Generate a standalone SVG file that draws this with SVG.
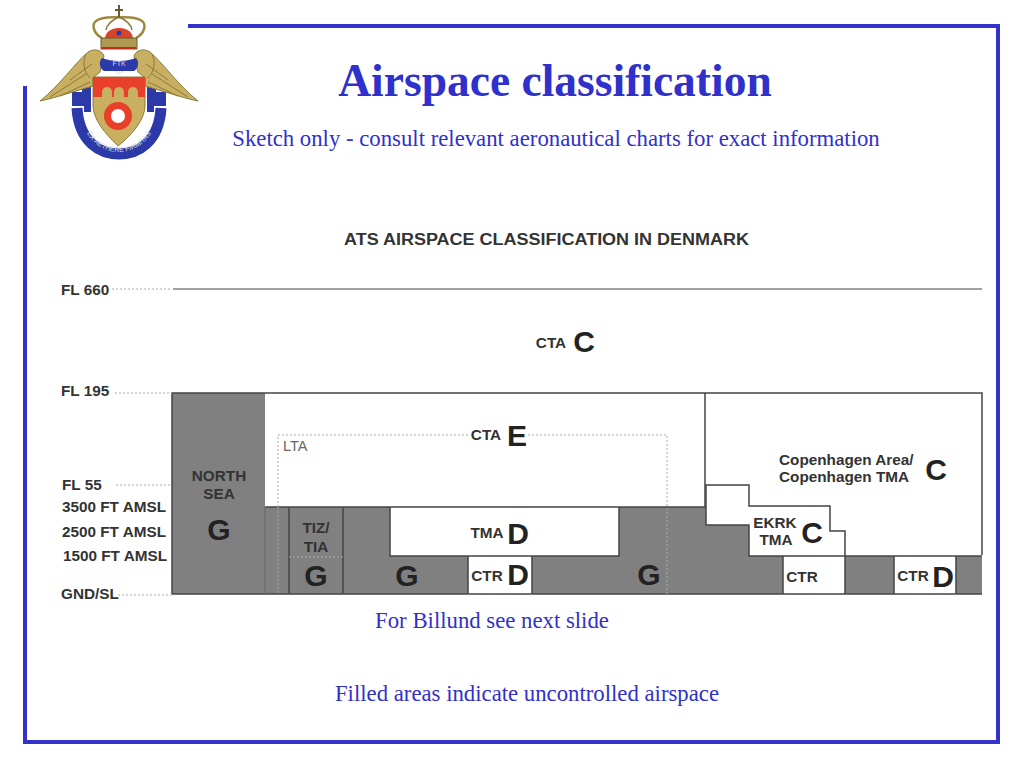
<svg xmlns="http://www.w3.org/2000/svg" width="1024" height="768" viewBox="0 0 1024 768">
<style>
.serif{font-family:"Liberation Serif",serif;fill:#3030cc}
.lab{font-family:"Liberation Sans",Arial,sans-serif;font-weight:bold;fill:#333}
.big{font-family:"Liberation Sans",Arial,sans-serif;fill:#222;font-size:30px;font-weight:bold}
.gray{fill:#808080;stroke:none}
.white{fill:#fff;stroke:none}
.ln{fill:none;stroke:#444;stroke-width:1.5}
.faint{fill:none;stroke:#666;stroke-width:1}
.dot{fill:none;stroke:#aaa;stroke-width:1;stroke-dasharray:2 2}
.wing{fill:#c8b060;stroke:#8a7a40;stroke-width:1}
</style>
<defs><path id="ringtext" d="M82 125C92 146 106 152 119 152C132 152 146 146 156 125"/></defs>
<rect width="1024" height="768" fill="#fff"/>
<g id="frame"><path d="M188 26H998V742H25V86" fill="none" stroke="#3333cc" stroke-width="4"/></g>
<g id="logo">
<path d="M77 108C79 142 100 154 119 154C138 154 159 142 161 108" fill="none" stroke="#2b3aa8" stroke-width="11"/>
<path d="M72 92H82V87H91V112H84V106H72Z" fill="#2b3aa8"/>
<path d="M166 92H156V87H147V112H154V106H166Z" fill="#2b3aa8"/>
<path d="M40 101C60 85 76 62 88 52C94 48 102 50 104 56L100 72L93 78L93 86C75 91 55 98 40 101Z" class="wing"/>
<path d="M198 101C178 85 162 62 150 52C144 48 136 50 134 56L138 72L145 78L145 86C163 91 183 98 198 101Z" class="wing"/>
<path d="M50 97L86 74M60 96L90 82M70 80L92 64M86 54C82 62 84 72 90 78" stroke="#8a7a40" fill="none"/>
<path d="M188 97L152 74M178 96L148 82M168 80L146 64M152 54C156 62 154 72 148 78" stroke="#8a7a40" fill="none"/>
<path d="M93 77H145V105C145 122 128 138 118 146C110 138 93 122 93 105Z" class="wing"/>
<path d="M93 77H145V97H93Z" fill="#e8402a"/>
<path d="M102 97V92A5 5 0 0 1 112 92V97ZM114 97V92A5 5 0 0 1 124 92V97ZM128 97V92A5 5 0 0 1 138 92V97Z" fill="#c8b060"/>
<circle cx="118" cy="116" r="10.5" fill="#fff" stroke="#e8402a" stroke-width="7"/>
<path d="M102 58C112 62 126 62 136 58C140 62 138 69 134 71H104C100 69 98 62 102 58Z" fill="#2b3aa8"/>
<path d="M113 71L119 75L125 71Z" fill="#f4f0e0"/>
<text x="119" y="66" text-anchor="middle" font-family="Liberation Sans,sans-serif" font-size="7" fill="#ddd">FTK</text>
<path d="M102 38C94 34 91 25 96 21C103 16 113 18 119 17C125 18 135 16 142 21C147 25 144 34 136 38" fill="none" stroke="#a08a40" stroke-width="2.5"/>
<path d="M105 38C106 30 114 28 119 28C124 28 132 30 133 38Z" fill="#d8442a"/>
<circle cx="119" cy="33" r="2.5" fill="#2b3aa8"/>
<path d="M119 17C112 20 107 24 106 30M119 17C126 20 131 24 132 30" fill="none" stroke="#8a7a40" stroke-width="1.5"/>
<rect x="101" y="38" width="36" height="11" fill="#b09a50" stroke="#6a5a30"/>
<path d="M102 48H136" stroke="#c03020" stroke-width="2"/>
<path d="M119 5V17M115 10H123" stroke="#6a5a30" stroke-width="2"/>
<text font-family="Liberation Sans,sans-serif" font-size="7" fill="#ddd" text-anchor="middle"><textPath href="#ringtext" startOffset="50%">EX AETHERE FIRMITAS</textPath></text>
</g>
<g id="heading">
<text class="serif" x="555" y="96" text-anchor="middle" font-size="45.5" font-weight="bold">Airspace classification</text>
<text class="serif" x="556" y="146" text-anchor="middle" font-size="22.75">Sketch only - consult relevant aeronautical charts for exact information</text>
<text class="serif" x="492" y="628" text-anchor="middle" font-size="22.75">For Billund see next slide</text>
<text class="serif" x="527" y="701" text-anchor="middle" font-size="22.75">Filled areas indicate uncontrolled airspace</text>
<text class="lab" x="344" y="245" font-size="16" textLength="405" lengthAdjust="spacingAndGlyphs">ATS AIRSPACE CLASSIFICATION IN DENMARK</text>
</g>
<g id="chart">
<rect class="gray" x="172" y="393" width="93" height="201"/>
<path class="gray" d="M265 507H706V525H749V556H982V594H265Z"/>
<rect class="white" x="390" y="507" width="229" height="49"/>
<rect class="white" x="468" y="556" width="64" height="38"/>
<rect class="white" x="783" y="556" width="62" height="38"/>
<rect class="white" x="894" y="556" width="62" height="38"/>
</g>
<g id="connectors">
<path d="M173 289H982" fill="none" stroke="#444" stroke-width="1.2"/>
<path class="ln" d="M172 594V393H982V555M705 393V507"/>
<path class="ln" d="M172 594H982M289 507V594M343 507V594M265 507H705"/>
<path class="faint" d="M265 507V594"/>
<path class="ln" d="M390 507V556H619V507M468 556V594M532 556V594"/>
<path class="ln" d="M706 485H749V506H830V531H845V556H749V525H706ZM749 556H982M783 556V594M845 556V594M894 556V594M956 556V594"/>
<path class="dot" d="M278 507V435H468M528 435H667V594M278 507V594M289 557H343"/>
<path class="dot" d="M112 289H172M115 393H172M116 485H172M118 595H172"/>
</g>
<g id="labels">
<g class="lab" font-size="15.3">
<text x="61" y="295">FL 660</text>
<text x="61" y="396">FL 195</text>
<text x="62" y="490">FL 55</text>
<text x="62" y="512">3500 FT AMSL</text>
<text x="62" y="537">2500 FT AMSL</text>
<text x="63" y="561">1500 FT AMSL</text>
<text x="61" y="599">GND/SL</text>
<text x="219" y="481" text-anchor="middle">NORTH</text>
<text x="219" y="499" text-anchor="middle">SEA</text>
<text x="316" y="533" text-anchor="middle">TIZ/</text>
<text x="316" y="552" text-anchor="middle">TIA</text>
<text x="551" y="348" text-anchor="middle">CTA</text>
<text x="486" y="440" text-anchor="middle">CTA</text>
<text x="487" y="538" text-anchor="middle">TMA</text>
<text x="487" y="581" text-anchor="middle">CTR</text>
<text x="802" y="582" text-anchor="middle">CTR</text>
<text x="913" y="581" text-anchor="middle">CTR</text>
<text x="775" y="528" text-anchor="middle">EKRK</text>
<text x="776" y="545" text-anchor="middle">TMA</text>
<text x="779" y="465">Copenhagen Area/</text>
<text x="779" y="482">Copenhagen TMA</text>
</g>
<text x="283" y="451" font-family="Liberation Sans,sans-serif" font-size="14.5" fill="#666">LTA</text>
<g class="big">
<text x="584" y="352" text-anchor="middle">C</text>
<text x="517" y="446" text-anchor="middle">E</text>
<text x="936" y="480" text-anchor="middle">C</text>
<text x="812" y="543" text-anchor="middle">C</text>
<text x="219" y="540" text-anchor="middle">G</text>
<text x="316" y="586" text-anchor="middle">G</text>
<text x="407" y="586" text-anchor="middle">G</text>
<text x="649" y="585" text-anchor="middle">G</text>
<text x="518" y="544" text-anchor="middle">D</text>
<text x="518" y="585" text-anchor="middle">D</text>
<text x="943" y="587" text-anchor="middle">D</text>
</g>
</g>
</svg>
